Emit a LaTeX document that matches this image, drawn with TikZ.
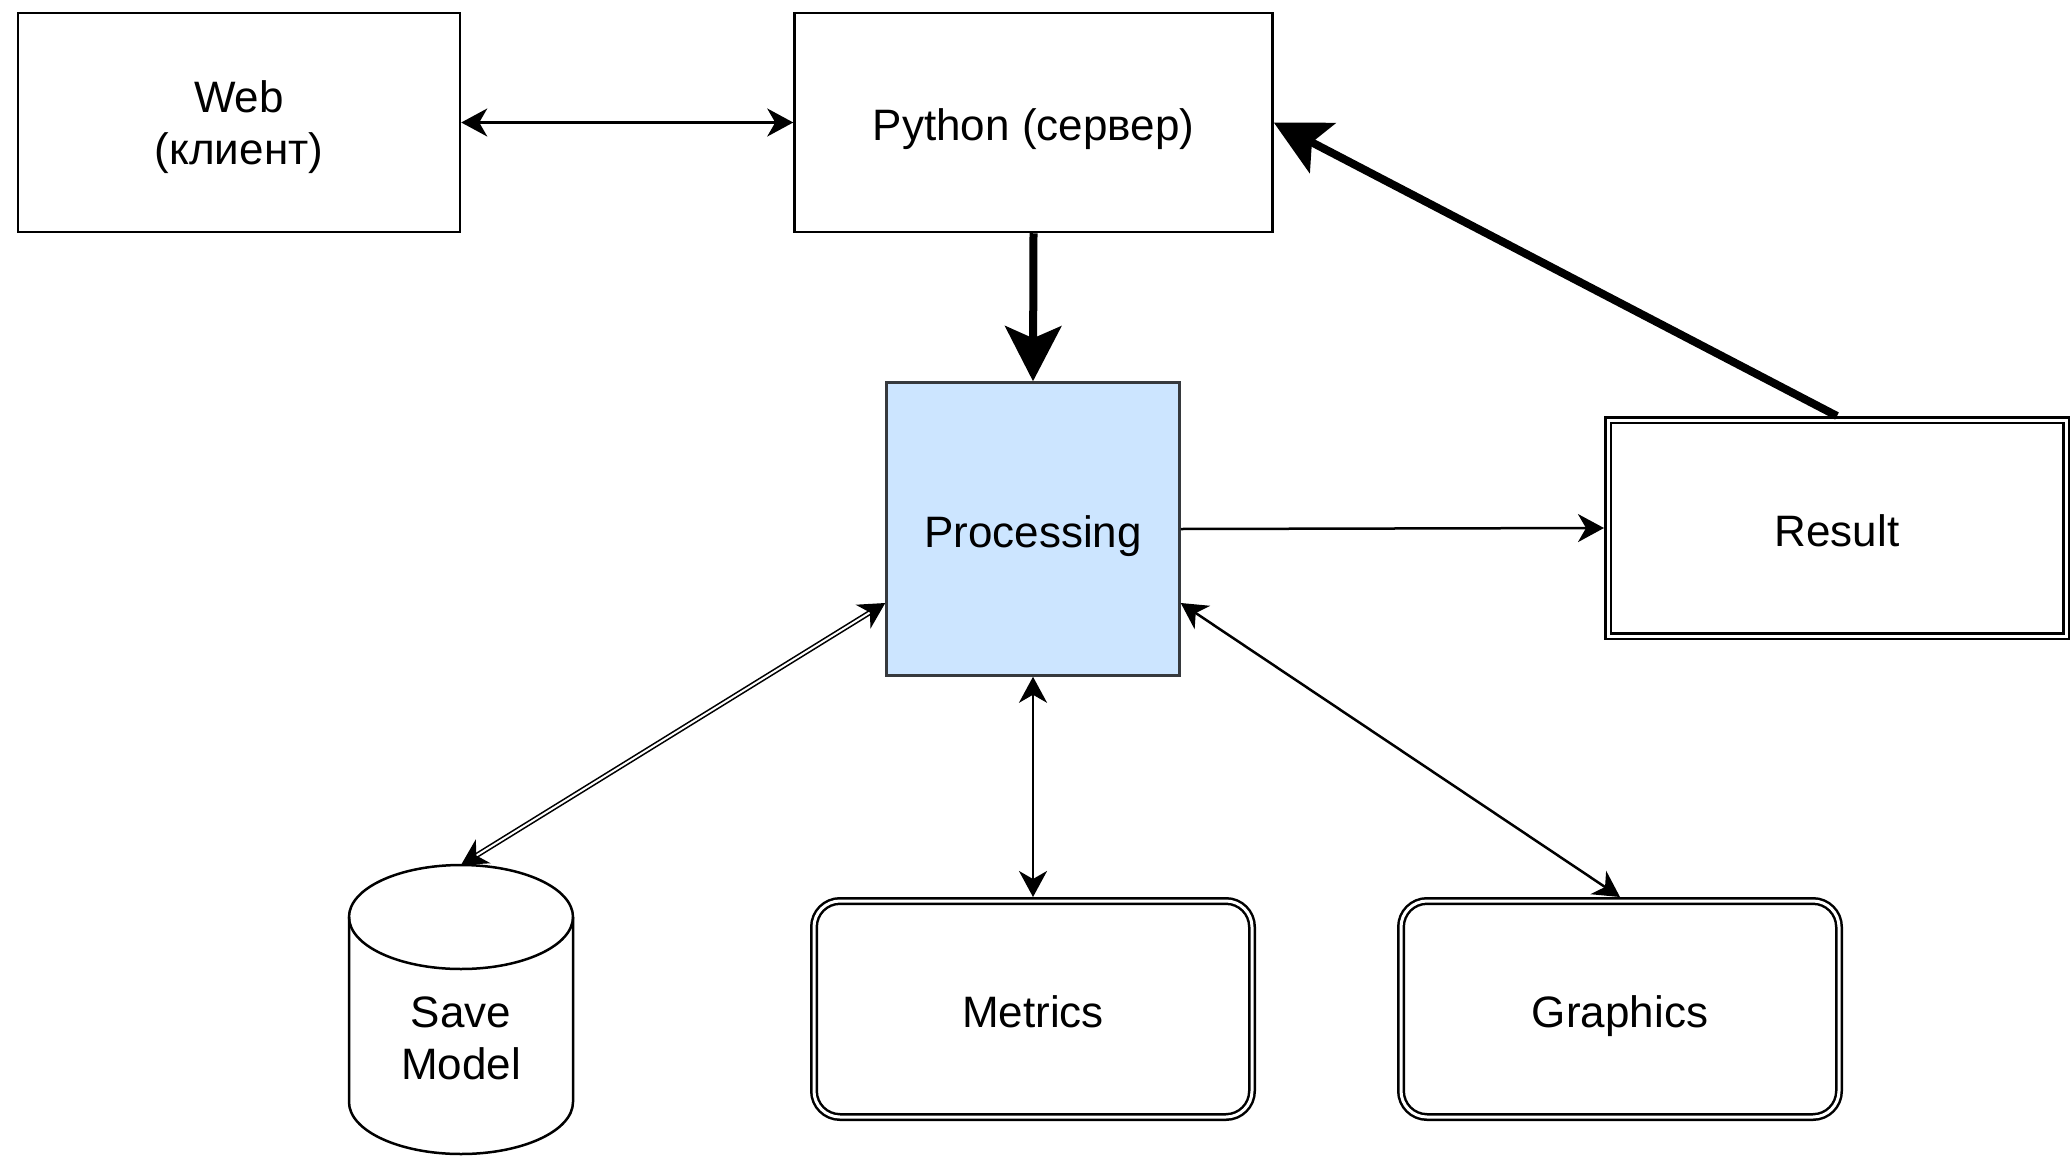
\documentclass[tikz,border=0pt]{standalone}
\usepackage{fontspec}
\setmainfont{Liberation Sans}
\usetikzlibrary{arrows.meta,calc}
\definecolor{procfill}{HTML}{CCE5FF}
\definecolor{procline}{HTML}{36393D}
\tikzset{
  tipS/.tip={Stealth[length=26pt,width=28pt,inset=8pt]},
  tipL/.tip={Stealth[length=55pt,width=56pt,inset=12pt]},
  lbl/.style={font=\fontsize{44pt}{52pt}\selectfont, align=center, text=black},
  oneline/.style={text height=42pt, text depth=6pt},
  box/.style={lbl, draw=black, line width=2.5pt, inner sep=0pt, outer sep=1.25pt},
  dblbox/.style={lbl, oneline, draw=black, line width=2.5pt, double=white, double distance=3pt,
    inner sep=0pt, outer sep=4pt},
  conn/.style={draw=black, line width=2.5pt},
  heavy/.style={draw=black, line width=8pt},
  linkline/.style={draw=black, line width=1.6pt, double=white, double distance=2pt},
}
\begin{document}
\begin{tikzpicture}[x=1pt,y=-1pt]
\useasboundingbox (0,0) rectangle (2072,1156);

% boxes
\node[box, minimum width=442pt, minimum height=219pt] (web) at (239,122.5) {};
\node[lbl] (weblbl) at (239,127) {Web\\(клиент)};
\node[box, oneline, minimum width=478pt, minimum height=219pt] (py) at (1033.5,122.5) {Python (сервер)};
\node[box, oneline, fill=procfill, draw=procline, minimum width=293pt, minimum height=293pt] (proc) at (1033,529) {Processing};
\node[dblbox, minimum width=458pt, minimum height=216pt] (res) at (1837,528) {Result};
\node[dblbox, rounded corners=26pt, minimum width=438pt, minimum height=216pt] (met) at (1033,1009) {Metrics};
\node[dblbox, rounded corners=26pt, minimum width=438pt, minimum height=216pt] (gra) at (1620,1009) {Graphics};

% storage cylinder
\node[minimum width=224pt, minimum height=289pt, inner sep=0pt, outer sep=0pt] (save) at (461,1009.5) {};
\draw[line width=2.5pt] ([yshift=-52pt]save.north west) -- ([yshift=52pt]save.south west)
  arc[start angle=180, end angle=360, x radius=112pt, y radius=52pt]
  -- ([yshift=-52pt]save.north east);
\draw[line width=2.5pt] ([yshift=-52pt]save.north) ellipse[x radius=112pt, y radius=52pt];
\node[lbl] (savelbl) at (461,1038) {Save\\Model};

% connectors
\draw[conn, tipS-tipS] (web.east) -- (py.west);
\draw[heavy, -tipL] (py.south) -- (proc.north);
\draw[heavy, -tipL] (res.north) -- (py.east);
\draw[conn, -tipS] (proc.east) -- (res.west);
\draw[linkline, tipS-tipS] (save.north) -- ([yshift=-74pt]proc.west);
\draw[conn, tipS-tipS] (proc.south) -- (met.north);
\draw[conn, tipS-tipS] ([yshift=-74pt]proc.east) -- (gra.north);
\end{tikzpicture}
\end{document}
